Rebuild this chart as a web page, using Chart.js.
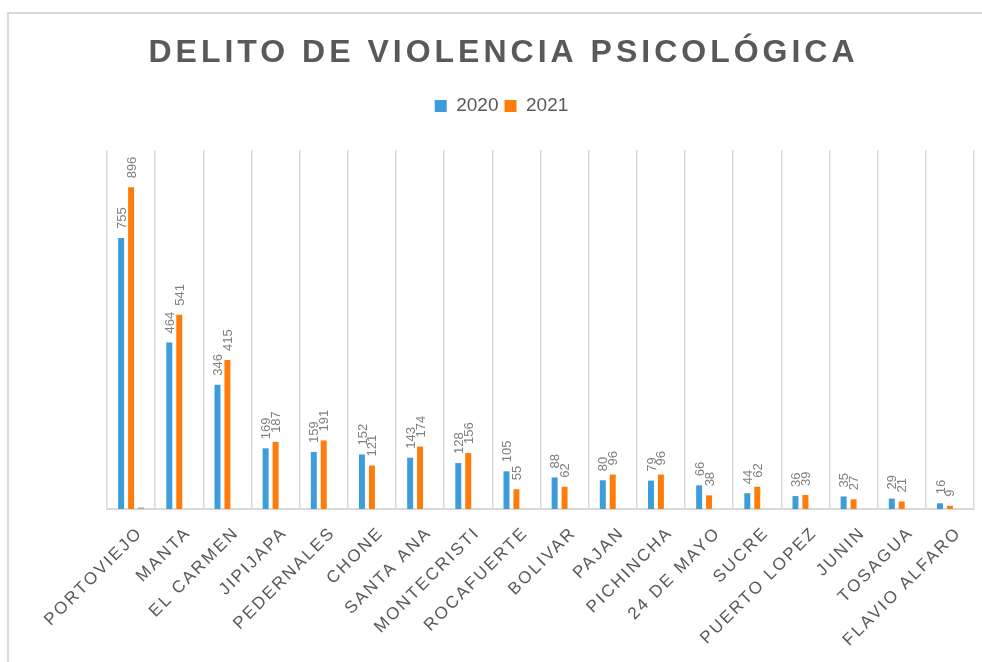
<!DOCTYPE html>
<html>
<head>
<meta charset="utf-8">
<title>Delito de violencia psicológica</title>
<script src="https://cdn.jsdelivr.net/npm/chart.js@4.4.1/dist/chart.umd.min.js"></script>
<style>
  html, body { margin: 0; padding: 0; background: #ffffff; overflow: hidden; }
  .frame { position: absolute; left: 7px; top: 12px; width: 1200px; height: 900px; border: 2px solid #d9d9d9; }
  .wrap { position: absolute; left: 0; top: 0; width: 982px; height: 662px; }
</style>
</head>
<body>
<div class="frame"></div>
<div class="wrap"><canvas id="chart"></canvas></div>
<script>
const chartTitle = 'DELITO DE VIOLENCIA PSICOLÓGICA';
const cantones = ['PORTOVIEJO', 'MANTA', 'EL CARMEN', 'JIPIJAPA', 'PEDERNALES', 'CHONE', 'SANTA ANA',
  'MONTECRISTI', 'ROCAFUERTE', 'BOLIVAR', 'PAJAN', 'PICHINCHA', '24 DE MAYO', 'SUCRE',
  'PUERTO LOPEZ', 'JUNIN', 'TOSAGUA', 'FLAVIO ALFARO'];
const casos2020 = [755, 464, 346, 169, 159, 152, 143, 128, 105, 88, 80, 79, 66, 44, 36, 35, 29, 16];
const casos2021 = [896, 541, 415, 187, 191, 121, 174, 156, 55, 62, 96, 96, 38, 62, 39, 27, 21, 9];
// third (unlabelled) series, only a sliver under PORTOVIEJO
const casosOtro = [4, 0, 0, 0, 0, 0, 0, 0, 0, 0, 0, 0, 0, 0, 0, 0, 0, 0];

const textGrey = '#595959';

const labelsPlugin = {
  id: 'labelsPlugin',
  beforeDraw(chart) {
    chart.ctx.letterSpacing = '0px';
  },
  afterDatasetsDraw(chart) {
    const ctx = chart.ctx;
    ctx.save();
    ctx.letterSpacing = '0px';
    ctx.font = '13px "Liberation Sans", Arial, sans-serif';
    ctx.fillStyle = '#7f7f7f';
    ctx.textAlign = 'left';
    ctx.textBaseline = 'middle';
    [0, 1].forEach(di => {
      const values = chart.data.datasets[di].data;
      chart.getDatasetMeta(di).data.forEach((bar, i) => {
        ctx.save();
        ctx.translate(bar.x + 1, bar.y - 9);
        ctx.rotate(-Math.PI / 2);
        ctx.fillText(String(values[i]), 0, 0);
        ctx.restore();
      });
    });
    ctx.restore();
    // category labels (ticks.z = 1) are drawn right after this, spaced out
    ctx.letterSpacing = '2.2px';
  },
  afterDraw(chart) {
    const ctx = chart.ctx;
    ctx.save();
    ctx.letterSpacing = '4px';
    ctx.font = 'bold 32px "Liberation Sans", Arial, sans-serif';
    ctx.fillStyle = textGrey;
    ctx.textAlign = 'center';
    ctx.textBaseline = 'alphabetic';
    const cx = (chart.legend.left + chart.legend.right) / 2;
    ctx.fillText(chartTitle, cx + 2, 62);
    ctx.restore();
    ctx.letterSpacing = '0px';
  }
};

const ctx = document.getElementById('chart').getContext('2d');
new Chart(ctx, {
  type: 'bar',
  data: {
    labels: cantones,
    datasets: [
      {
        label: '2020',
        data: casos2020,
        backgroundColor: '#3d9ddc',
        categoryPercentage: 0.62,
        barPercentage: 0.6,
      },
      {
        label: '2021',
        data: casos2021,
        backgroundColor: '#ff7c0a',
        categoryPercentage: 0.62,
        barPercentage: 0.6,
      },
      {
        label: 'otro',
        data: casosOtro,
        backgroundColor: '#a5a5a5',
        categoryPercentage: 0.62,
        barPercentage: 0.6,
      },
    ]
  },
  options: {
    responsive: true,
    maintainAspectRatio: false,
    animation: false,
    events: [],
    layout: {
      padding: { top: 90.5, left: 29, right: 8, bottom: 0 }
    },
    scales: {
      x: {
        ticks: {
          color: textGrey,
          font: { size: 17, family: '"Liberation Sans", Arial, sans-serif' },
          maxRotation: 45,
          minRotation: 45,
          autoSkip: false,
          padding: 14,
          labelOffset: 9,
          z: 1,
        },
        grid: {
          color: '#d9d9d9',
          lineWidth: 1.5,
          drawTicks: false,
        },
        border: {
          color: '#d9d9d9',
          width: 2,
        },
        afterFit(scale) {
          scale.height = 153;
          scale.paddingLeft = 0;
          scale.paddingRight = 0;
        }
      },
      xTop: {
        type: 'category',
        axis: 'x',
        position: 'top',
        grid: { display: false },
        border: { display: false },
        ticks: { display: false },
        afterFit(scale) {
          scale.height = 24.5;
        }
      },
      y: {
        min: 0,
        max: 1000,
        grid: { display: false },
        border: { display: false },
        ticks: { display: false },
        afterFit(scale) {
          scale.width = 78;
        }
      }
    },
    plugins: {
      legend: {
        position: 'top',
        labels: {
          color: textGrey,
          boxWidth: 12,
          boxHeight: 12,
          padding: 6,
          font: { size: 19, family: '"Liberation Sans", Arial, sans-serif' },
          filter: item => item.datasetIndex < 2,
        }
      },
      tooltip: { enabled: false },
    }
  },
  plugins: [labelsPlugin]
});
</script>
</body>
</html>
